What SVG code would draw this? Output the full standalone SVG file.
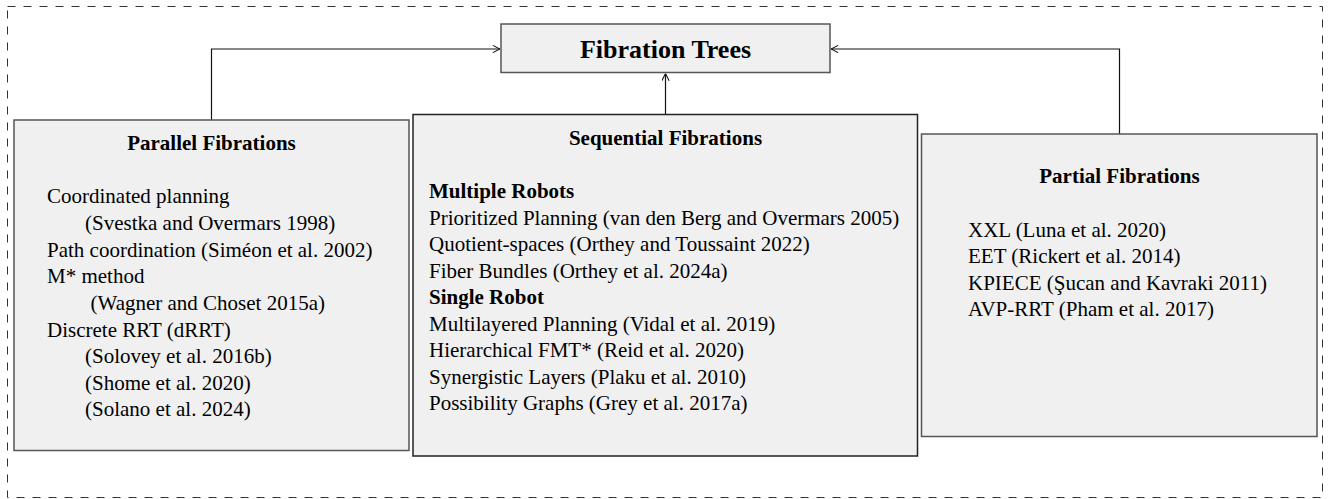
<svg xmlns="http://www.w3.org/2000/svg" width="1335" height="499" viewBox="0 0 1335 499">
<style>
.box{fill:#f0f0f0;stroke:#3a3a3a;stroke-width:1.5}
.h{font-family:"Liberation Serif","Times New Roman",serif;font-weight:bold;font-size:21px;fill:#000}
.t{font-family:"Liberation Serif","Times New Roman",serif;font-size:21px;fill:#000}
.c{text-anchor:middle}
.conn{fill:none;stroke:#111;stroke-width:1.2}
</style>
<defs>
<marker id="arr" viewBox="0 0 10 10" refX="10" refY="5" markerWidth="8" markerHeight="8" markerUnits="userSpaceOnUse" orient="auto">
<path d="M1,0.5 L10,5 L1,9.5" fill="none" stroke="#111" stroke-width="1.3"/>
</marker>
</defs>
<rect x="7.5" y="6.5" width="1315" height="491" fill="none" stroke="#333" stroke-width="1" stroke-dasharray="8,8"/>
<g id="connectors">
<path class="conn" d="M211.5,120 V49 H500" marker-end="url(#arr)"/>
<path class="conn" d="M1119.5,134 V49 H831" marker-end="url(#arr)"/>
<path class="conn" d="M665.5,114 V73.5" marker-end="url(#arr)"/>
</g>
<g id="fibration-trees">
<rect class="box" x="501" y="24" width="329" height="48.5" style="stroke:#555"/>
<text class="h c" x="665.5" y="58" style="font-size:26px">Fibration Trees</text>
</g>
<g id="parallel">
<rect class="box" x="14" y="120" width="395" height="330.5" style="stroke:#555"/>
<text class="h c" x="211.5" y="150">Parallel Fibrations</text>
<text class="t" x="47" y="203">Coordinated planning</text>
<text class="t" x="85" y="230">(Svestka and Overmars 1998)</text>
<text class="t" x="47" y="256.5">Path coordination (Siméon et al. 2002)</text>
<text class="t" x="47" y="283">M* method</text>
<text class="t" x="90.5" y="310">(Wagner and Choset 2015a)</text>
<text class="t" x="47" y="336.5">Discrete RRT (dRRT)</text>
<text class="t" x="85" y="363">(Solovey et al. 2016b)</text>
<text class="t" x="85" y="389.5">(Shome et al. 2020)</text>
<text class="t" x="85" y="416">(Solano et al. 2024)</text>
</g>
<g id="sequential">
<rect class="box" x="413" y="114.5" width="504.5" height="341.5" style="stroke:#222"/>
<text class="h c" x="665.5" y="145">Sequential Fibrations</text>
<text class="h" x="429" y="198">Multiple Robots</text>
<text class="t" x="429" y="224.5">Prioritized Planning (van den Berg and Overmars 2005)</text>
<text class="t" x="429" y="251">Quotient-spaces (Orthey and Toussaint 2022)</text>
<text class="t" x="429" y="277.5">Fiber Bundles (Orthey et al. 2024a)</text>
<text class="h" x="429" y="304">Single Robot</text>
<text class="t" x="429" y="330.5">Multilayered Planning (Vidal et al. 2019)</text>
<text class="t" x="429" y="357">Hierarchical FMT* (Reid et al. 2020)</text>
<text class="t" x="429" y="383.5">Synergistic Layers (Plaku et al. 2010)</text>
<text class="t" x="429" y="410">Possibility Graphs (Grey et al. 2017a)</text>
</g>
<g id="partial">
<rect class="box" x="921.5" y="134" width="395.5" height="302.5" style="stroke:#555"/>
<text class="h c" x="1119.5" y="183">Partial Fibrations</text>
<text class="t" x="968" y="236.5">XXL (Luna et al. 2020)</text>
<text class="t" x="968" y="263">EET (Rickert et al. 2014)</text>
<text class="t" x="968" y="289.5">KPIECE (Şucan and Kavraki 2011)</text>
<text class="t" x="968" y="316">AVP-RRT (Pham et al. 2017)</text>
</g>
</svg>
